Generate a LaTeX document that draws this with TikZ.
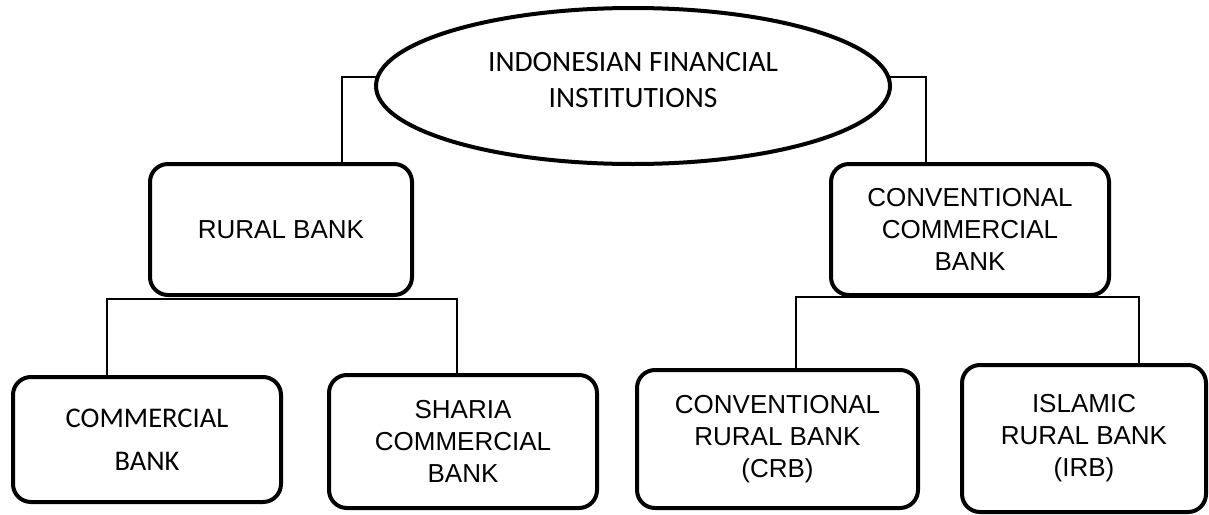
\documentclass[tikz,border=0pt]{standalone}
\usepackage{fontspec}
\setmainfont{Liberation Sans}
\newfontfamily\calibri{Carlito}
\usetikzlibrary{shapes.geometric}

\begin{document}
\begin{tikzpicture}[x=1pt, y=-1pt,
    bank/.style={draw, line width=4pt, rounded corners=18pt, align=center, inner sep=0pt,
                 font=\fontsize{26}{32}\selectfont},
    link/.style={line width=1.2pt}]
      \useasboundingbox (0,0) rectangle (1209,514);
      %% top of the tree
      \node (ifi) [ellipse, draw, line width=4pt, minimum width=514pt, minimum height=156pt,
                   inner sep=0pt, text depth=12pt, align=center,
                   font=\calibri\fontsize{29.5}{36}\selectfont]
                   at (633,86) {INDONESIAN FINANCIAL\\INSTITUTIONS};

      %% second row
      \node (rural) [bank, minimum width=262pt, minimum height=131pt] at (281,229.5) {RURAL BANK};
      \node (ccb) [bank, minimum width=278pt, minimum height=131pt] at (970,229.5)
            {CONVENTIONAL\\COMMERCIAL\\BANK};

      %% bottom row
      \node (cb) [bank, minimum width=268pt, minimum height=125pt,
                  font=\calibri\fontsize{28.5}{43}\selectfont] at (147,439.5) {COMMERCIAL\\BANK};
      \node (scb) [bank, minimum width=268pt, minimum height=133pt] at (463,441.5)
            {SHARIA\\COMMERCIAL\\BANK};
      \node (crb) [bank, minimum width=281pt, minimum height=138pt] at (777.5,439)
            {CONVENTIONAL\\RURAL BANK\\(CRB)};
      \node (irb) [bank, minimum width=244pt, minimum height=147pt] at (1084,438.5)
            {ISLAMIC\\RURAL BANK\\(IRB)};

      \draw[link] (ifi.178) -| ([xshift=61pt]rural.north);
      \draw[link] (ifi.2) -| ([xshift=-44pt]ccb.north);
      \draw[link] ([xshift=-40pt]cb.north) |- ([yshift=-2pt]rural.south) -| ([xshift=-6pt]scb.north);
      \draw[link] ([xshift=18.5pt]crb.north) |- (ccb.south) -| ([xshift=55pt]irb.north);

    \end{tikzpicture}
\end{document}
